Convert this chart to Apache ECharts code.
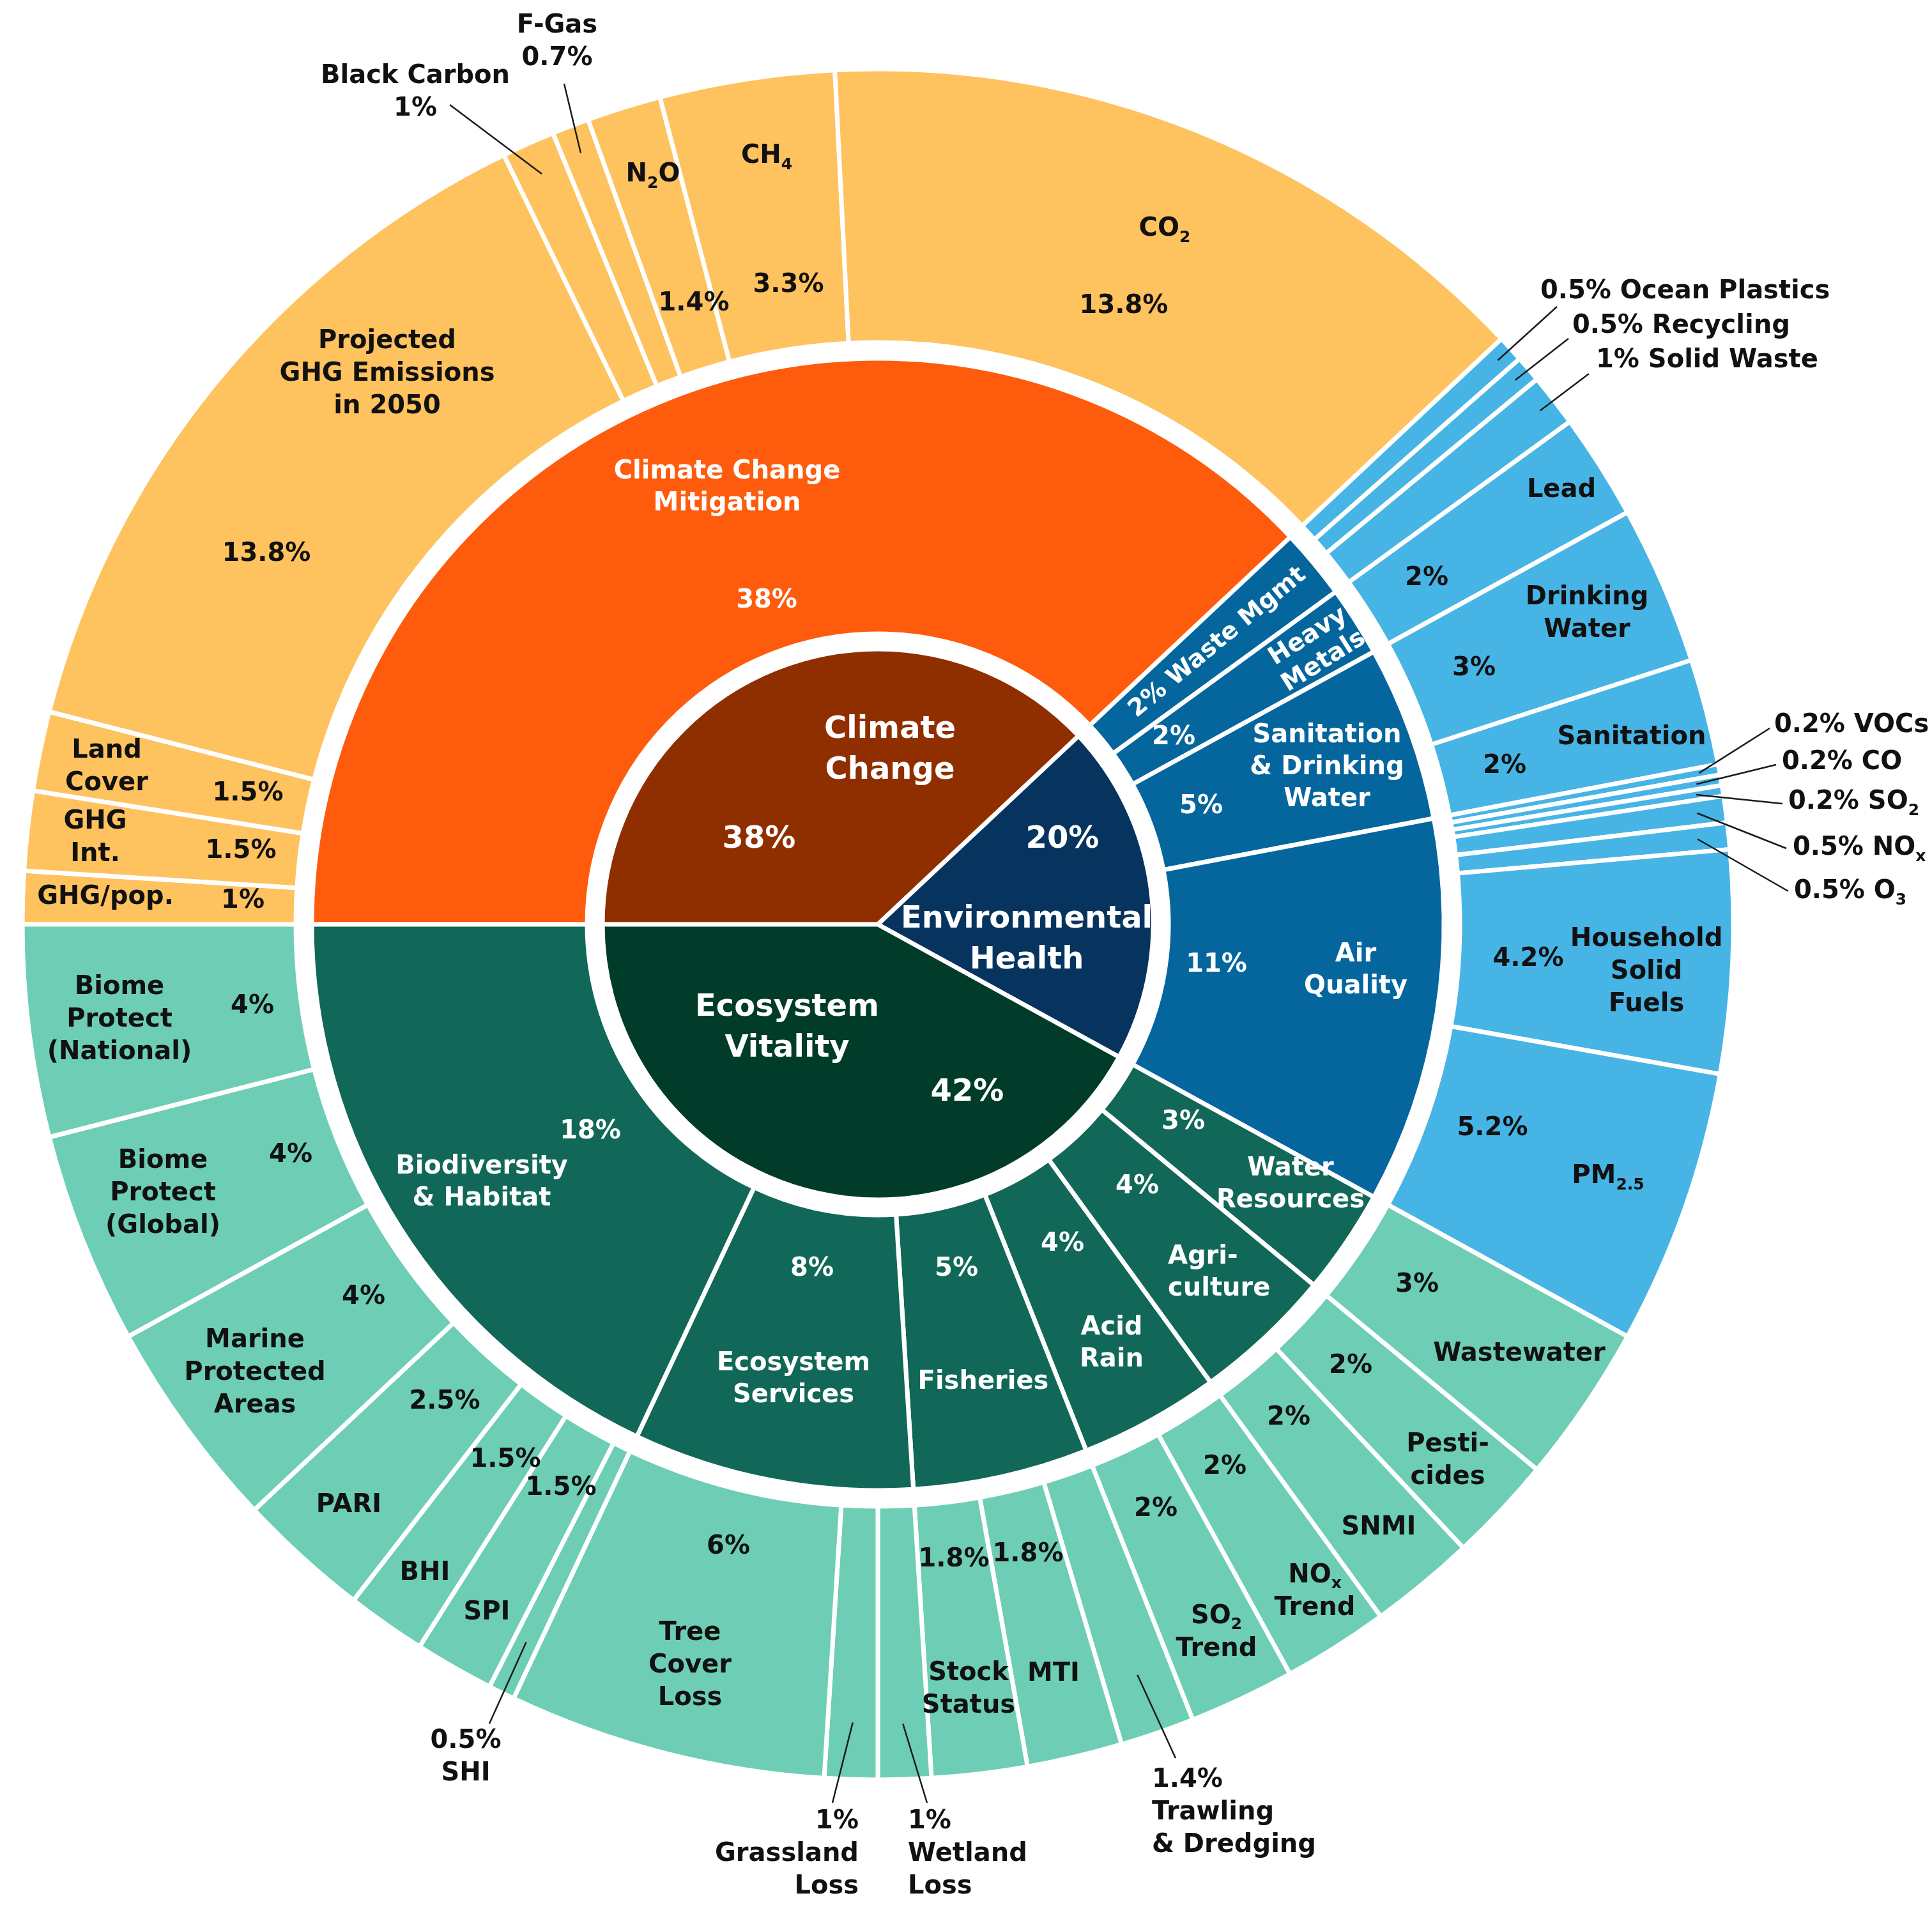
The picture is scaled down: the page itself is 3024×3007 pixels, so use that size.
<!DOCTYPE html>
<html>
<head>
<meta charset="utf-8">
<title>EPI weights sunburst</title>
<script src="https://cdn.jsdelivr.net/npm/echarts@6.0.0/dist/echarts.min.js"></script>
<style>
  html, body { margin: 0; padding: 0; background: #fff; }
  #main { width: 3024px; height: 3007px; }
</style>
</head>
<body>
<div id="main"></div>
<script>
// ---- data (weights in %) ----
var pillarNames = ['Climate Change', 'Environmental Health', 'Ecosystem Vitality'];
var pillarWeights = [38, 20, 42];

var issueNames = ['Climate Change Mitigation',
  'Waste Mgmt', 'Heavy Metals', 'Sanitation & Drinking Water', 'Air Quality',
  'Water Resources', 'Agriculture', 'Acid Rain', 'Fisheries', 'Ecosystem Services', 'Biodiversity & Habitat'];
var issueWeights = [38, 2, 2, 5, 11, 3, 4, 4, 5, 8, 18];
var issuePillar = [0, 1, 1, 1, 1, 2, 2, 2, 2, 2, 2];

var indicatorNames = ['GHG/pop.', 'GHG Int.', 'Land Cover', 'Projected GHG Emissions in 2050',
  'Black Carbon', 'F-Gas', 'N2O', 'CH4', 'CO2',
  'Ocean Plastics', 'Recycling', 'Solid Waste', 'Lead', 'Drinking Water', 'Sanitation',
  'VOCs', 'CO', 'SO2', 'NOx', 'O3', 'Household Solid Fuels', 'PM2.5',
  'Wastewater', 'Pesticides', 'SNMI', 'NOx Trend', 'SO2 Trend',
  'Trawling & Dredging', 'MTI', 'Stock Status', 'Wetland Loss', 'Grassland Loss', 'Tree Cover Loss',
  'SHI', 'SPI', 'BHI', 'PARI', 'Marine Protected Areas', 'Biome Protect (Global)', 'Biome Protect (National)'];
var indicatorWeights = [1, 1.5, 1.5, 13.8, 1, 0.7, 1.4, 3.3, 13.8,
  0.5, 0.5, 1, 2, 3, 2,
  0.2, 0.2, 0.2, 0.5, 0.5, 4.2, 5.2,
  3, 2, 2, 2, 2,
  1.4, 1.8, 1.8, 1, 1, 6,
  0.5, 1.5, 1.5, 2.5, 4, 4, 4];
var indicatorIssue = [0, 0, 0, 0, 0, 0, 0, 0, 0,
  1, 1, 1, 2, 3, 3,
  4, 4, 4, 4, 4, 4, 4,
  5, 6, 6, 7, 7,
  8, 8, 8, 9, 9, 9,
  10, 10, 10, 10, 10, 10, 10];

// ---- look ----
var FONT = 'DejaVu Sans';
var C = [1374, 1447];
var ringColors = [
  ['#8f2f00', '#ff5b0d', '#fec25f'],
  ['#06345f', '#05669e', '#47b4e6'],
  ['#013c2a', '#116858', '#6dceb5']
];

// how the names are written on the chart
var shown = {
  'Climate Change': 'Climate\nChange',
  'Environmental Health': 'Environmental\nHealth',
  'Ecosystem Vitality': 'Ecosystem\nVitality',
  'Climate Change Mitigation': 'Climate Change\nMitigation',
  'Heavy Metals': 'Heavy\nMetals',
  'Sanitation & Drinking Water': 'Sanitation\n& Drinking\nWater',
  'Air Quality': 'Air\nQuality',
  'Water Resources': 'Water\nResources',
  'Agriculture': 'Agri-\nculture',
  'Acid Rain': 'Acid\nRain',
  'Ecosystem Services': 'Ecosystem\nServices',
  'Biodiversity & Habitat': 'Biodiversity\n& Habitat',
  'GHG Int.': 'GHG\nInt.',
  'Land Cover': 'Land\nCover',
  'Projected GHG Emissions in 2050': 'Projected\nGHG Emissions\nin 2050',
  'N2O': 'N{sub|2}O',
  'CH4': 'CH{sub|4}',
  'CO2': 'CO{sub|2}',
  'Drinking Water': 'Drinking\nWater',
  'SO2': 'SO{sub|2}',
  'NOx': 'NO{sub|x}',
  'O3': 'O{sub|3}',
  'Household Solid Fuels': 'Household\nSolid\nFuels',
  'PM2.5': 'PM{sub|2.5}',
  'Pesticides': 'Pesti-\ncides',
  'NOx Trend': 'NO{sub|x}\nTrend',
  'SO2 Trend': 'SO{sub|2}\nTrend',
  'Trawling & Dredging': 'Trawling\n& Dredging',
  'Stock Status': 'Stock\nStatus',
  'Wetland Loss': 'Wetland\nLoss',
  'Grassland Loss': 'Grassland\nLoss',
  'Tree Cover Loss': 'Tree\nCover\nLoss',
  'Marine Protected Areas': 'Marine\nProtected\nAreas',
  'Biome Protect (Global)': 'Biome\nProtect\n(Global)',
  'Biome Protect (National)': 'Biome\nProtect\n(National)'
};
// indicators labelled outside the ring, with a leader line
var outsideForm = {
  'Black Carbon': 'nameFirst', 'F-Gas': 'nameFirst',
  'Ocean Plastics': 'inline', 'Recycling': 'inline', 'Solid Waste': 'inline',
  'VOCs': 'inline', 'CO': 'inline', 'SO2': 'inline', 'NOx': 'inline', 'O3': 'inline',
  'Trawling & Dredging': 'valueFirst', 'Wetland Loss': 'valueFirst',
  'Grassland Loss': 'valueFirst', 'SHI': 'valueFirst'
};
var valueInName = { 'Waste Mgmt': true };
var radialNames = { 'Waste Mgmt': 38, 'Heavy Metals': 39 };   // rotated labels and their font size

// label spots (page px): [x, y, align]
var namePos = {
  'Climate Change': [1393, 1175], 'Environmental Health': [1607, 1472], 'Ecosystem Vitality': [1232, 1610],
  'Climate Change Mitigation': [1138, 764], 'Waste Mgmt': [1906, 1006], 'Heavy Metals': [2060, 1016],
  'Sanitation & Drinking Water': [2077, 1202], 'Air Quality': [2122, 1520], 'Water Resources': [2020, 1855],
  'Agriculture': [1828, 1993, 'left'], 'Acid Rain': [1740, 2104], 'Fisheries': [1539, 2164],
  'Ecosystem Services': [1242, 2160], 'Biodiversity & Habitat': [754, 1852],
  'GHG/pop.': [165, 1405], 'GHG Int.': [149, 1312], 'Land Cover': [167, 1201],
  'Projected GHG Emissions in 2050': [606, 586], 'N2O': [1022, 274], 'CH4': [1200, 245], 'CO2': [1823, 359],
  'Lead': [2444, 768], 'Drinking Water': [2484, 961], 'Sanitation': [2554, 1155],
  'Household Solid Fuels': [2577, 1522], 'PM2.5': [2517, 1842],
  'Wastewater': [2378, 2120], 'Pesticides': [2266, 2287], 'SNMI': [2158, 2392], 'NOx Trend': [2058, 2492],
  'SO2 Trend': [1904, 2556], 'MTI': [1649, 2621], 'Stock Status': [1516, 2645], 'Tree Cover Loss': [1080, 2608],
  'SPI': [762, 2525], 'BHI': [665, 2463], 'PARI': [546, 2357], 'Marine Protected Areas': [399, 2150],
  'Biome Protect (Global)': [255, 1869], 'Biome Protect (National)': [187, 1597]
};
var valuePos = {
  'Climate Change': [1188, 1315], 'Environmental Health': [1663, 1315], 'Ecosystem Vitality': [1514, 1711],
  'Climate Change Mitigation': [1200, 941], 'Heavy Metals': [1837, 1155], 'Sanitation & Drinking Water': [1880, 1263],
  'Air Quality': [1904, 1511], 'Water Resources': [1852, 1757], 'Agriculture': [1780, 1858], 'Acid Rain': [1663, 1948],
  'Fisheries': [1497, 1987], 'Ecosystem Services': [1271, 1987], 'Biodiversity & Habitat': [924, 1772],
  'GHG/pop.': [380, 1411], 'GHG Int.': [377, 1333], 'Land Cover': [388, 1243],
  'Projected GHG Emissions in 2050': [417, 868], 'N2O': [1086, 476], 'CH4': [1234, 447], 'CO2': [1759, 480],
  'Lead': [2233, 906], 'Drinking Water': [2307, 1047], 'Sanitation': [2355, 1200],
  'Household Solid Fuels': [2392, 1502], 'PM2.5': [2336, 1767],
  'Wastewater': [2218, 2012], 'Pesticides': [2114, 2139], 'SNMI': [2017, 2220], 'NOx Trend': [1917, 2297],
  'SO2 Trend': [1809, 2363], 'MTI': [1609, 2434], 'Stock Status': [1493, 2442], 'Tree Cover Loss': [1140, 2422],
  'SPI': [878, 2330], 'BHI': [791, 2286], 'PARI': [696, 2195], 'Marine Protected Areas': [569, 2031],
  'Biome Protect (Global)': [455, 1809], 'Biome Protect (National)': [395, 1576]
};
// outside labels: [x, y, align, lineEndX, lineEndY, lineStartRadius]
var outsidePos = {
  'Black Carbon': [650, 145, 'center', 704, 164, 1287],
  'F-Gas': [872, 66, 'center', 883, 131, 1294],
  'Ocean Plastics': [2411, 457, 'left', 2437, 480, 1312],
  'Recycling': [2461, 511, 'left', 2455, 530, 1312],
  'Solid Waste': [2498, 565, 'left', 2487, 585, 1312],
  'VOCs': [2777, 1136, 'left', 2770, 1140, 1307],
  'CO': [2789, 1194, 'left', 2780, 1197, 1300],
  'SO2': [2799, 1256, 'left', 2790, 1258, 1297],
  'NOx': [2806, 1328, 'left', 2796, 1328, 1294],
  'O3': [2808, 1396, 'left', 2799, 1395, 1290],
  'Trawling & Dredging': [1803, 2838, 'left', 1840, 2752, 1243],
  'Wetland Loss': [1421, 2903, 'left', 1451, 2822, 1252],
  'Grassland Loss': [1344, 2903, 'right', 1303, 2822, 1250],
  'SHI': [729, 2751, 'center', 766, 2698, 1251]
};

function pct(v) { return (Math.round(v * 10) / 10) + '%'; }
function disp(name) { return shown[name] || name; }
function outsideText(name, v) {
  var f = outsideForm[name];
  if (f === 'nameFirst') return disp(name) + '\n' + pct(v);
  if (f === 'inline') return pct(v) + ' ' + disp(name);
  return pct(v) + '\n' + disp(name);
}

function node(name, value, color, valueLayer, children) {
  var hide = !!outsideForm[name] || (valueLayer && valueInName[name]);
  var n = {
    name: name,
    value: value,
    itemStyle: valueLayer ? { color: 'rgba(0,0,0,0)', borderWidth: 0 } : { color: color },
    label: { show: !hide }
  };
  if (!valueLayer && radialNames[name]) {
    n.label.rotate = 'radial';
    n.label.fontSize = radialNames[name];
    n.label.lineHeight = 46;
  }
  if (children) n.children = children;
  return n;
}
function buildTree(valueLayer) {
  return pillarNames.map(function (pName, p) {
    var issues = [];
    issueNames.forEach(function (iName, i) {
      if (issuePillar[i] !== p) return;
      var leaves = [];
      indicatorNames.forEach(function (dName, d) {
        if (indicatorIssue[d] === i) leaves.push(node(dName, indicatorWeights[d], ringColors[p][2], valueLayer));
      });
      issues.push(node(iName, issueWeights[i], ringColors[p][1], valueLayer, leaves));
    });
    return node(pName, pillarWeights[p], ringColors[p][0], valueLayer, issues);
  });
}

var nameKey = {};
function placeFrom(table) {
  return function (p) {
    var o = table[nameKey[p.seriesIndex + ':' + p.dataIndex]];
    if (!o) return {};
    return { x: o[0], y: o[1], align: o[2] || 'center', verticalAlign: 'middle' };
  };
}

var subStyle = { fontSize: 25, lineHeight: 28, verticalAlign: 'bottom', color: '#111' };
var baseLabel = {
  rotate: 0,
  fontFamily: FONT,
  fontWeight: 'bold',
  textBorderWidth: 0,
  rich: { sub: subStyle }
};
var levels = [
  {},
  { radius: [0, 431], label: { color: '#ffffff', fontSize: 48, lineHeight: 64 } },
  { radius: [455, 886], label: { color: '#ffffff', fontSize: 40, lineHeight: 50 } },
  { radius: [911, 1339], label: { color: '#111111', fontSize: 40, lineHeight: 51 } }
];

var myChart = echarts.init(document.getElementById('main'));

var option = {
  backgroundColor: '#ffffff',
  animation: false,
  series: [
    {
      // rings and names
      type: 'sunburst',
      z: 2,
      center: C,
      sort: null,
      nodeClick: false,
      startAngle: 180,
      clockwise: true,
      itemStyle: { borderColor: '#ffffff', borderWidth: 7 },
      label: Object.assign({
        formatter: function (p) {
          nameKey[p.seriesIndex + ':' + p.dataIndex] = p.name;
          return valueInName[p.name] ? pct(p.value) + ' ' + disp(p.name) : disp(p.name);
        }
      }, baseLabel),
      levels: levels,
      labelLayout: placeFrom(namePos),
      data: buildTree(false)
    },
    {
      // same rings, see-through, carrying the percentages
      type: 'sunburst',
      z: 3,
      center: C,
      sort: null,
      nodeClick: false,
      silent: true,
      startAngle: 180,
      clockwise: true,
      itemStyle: { color: 'rgba(0,0,0,0)', borderWidth: 0 },
      label: Object.assign({
        formatter: function (p) {
          nameKey[p.seriesIndex + ':' + p.dataIndex] = p.name;
          return pct(p.value);
        }
      }, baseLabel),
      levels: levels,
      labelLayout: placeFrom(valuePos),
      data: buildTree(true)
    },
    {
      // outer indicators again, see-through, for the labels with leader lines
      type: 'pie',
      z: 5,
      center: C,
      radius: [1000, 1285],
      startAngle: 180,
      clockwise: true,
      silent: true,
      avoidLabelOverlap: false,
      itemStyle: { color: 'rgba(0,0,0,0)', borderWidth: 0 },
      label: {
        position: 'outside',
        overflow: 'none',
        color: '#111111',
        fontFamily: FONT,
        fontWeight: 'bold',
        fontSize: 40,
        lineHeight: 51,
        textBorderWidth: 0,
        rich: { sub: subStyle },
        formatter: function (p) { return outsideText(p.name, p.value); }
      },
      labelLine: { show: true, length: 20, length2: 0, smooth: false, lineStyle: { color: '#1b1b1b', width: 2.5 } },
      labelLayout: function (p) {
        var o = outsidePos[indicatorNames[p.dataIndex]];
        if (!o) return {};
        var res = { x: o[0], y: o[1], align: o[2], verticalAlign: 'middle' };
        var pts = p.labelLinePoints;
        if (pts && pts.length) {
          var dx = pts[0][0] - C[0], dy = pts[0][1] - C[1];
          var k = o[5] / Math.sqrt(dx * dx + dy * dy);
          res.labelLinePoints = [[C[0] + dx * k, C[1] + dy * k], [o[3], o[4]], [o[3], o[4]]];
        }
        return res;
      },
      data: indicatorNames.map(function (n, d) {
        var out = !!outsideForm[n];
        return { name: n, value: indicatorWeights[d], label: { show: out }, labelLine: { show: out } };
      })
    }
  ]
};

myChart.setOption(option);
</script>
</body>
</html>
